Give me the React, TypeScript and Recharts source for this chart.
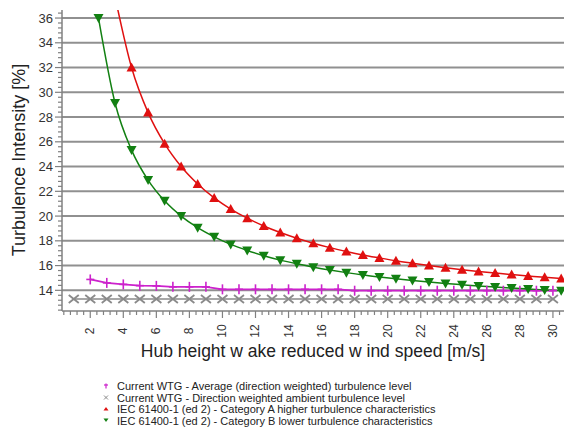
import React from 'react';
import { LineChart, Line, XAxis, YAxis, ReferenceLine } from 'recharts';

// wind speeds [m/s]
const ambientSpeeds = [1, 2, 3, 4, 5, 6, 7, 8, 9, 10, 11, 12, 13, 14, 15, 16, 17, 18, 19, 20, 21, 22, 23, 24, 25, 26, 27, 28, 29, 30];
const avgSpeeds = [2, 3, 4, 5, 6, 7, 8, 9, 10, 11, 12, 13, 14, 15, 16, 17, 18, 19, 20, 21, 22, 23, 24, 25, 26, 27, 28, 29, 30];
const catASpeeds = [3.5, 4.5, 5.5, 6.5, 7.5, 8.5, 9.5, 10.5, 11.5, 12.5, 13.5, 14.5, 15.5, 16.5, 17.5, 18.5, 19.5, 20.5, 21.5, 22.5, 23.5, 24.5, 25.5, 26.5, 27.5, 28.5, 29.5, 30.5];
const catBSpeeds = [2.5, 3.5, 4.5, 5.5, 6.5, 7.5, 8.5, 9.5, 10.5, 11.5, 12.5, 13.5, 14.5, 15.5, 16.5, 17.5, 18.5, 19.5, 20.5, 21.5, 22.5, 23.5, 24.5, 25.5, 26.5, 27.5, 28.5, 29.5, 30.5];

// turbulence intensity [%]
const ambientTI = [13.3, 13.3, 13.3, 13.3, 13.3, 13.3, 13.3, 13.3, 13.3, 13.3, 13.3, 13.3, 13.3, 13.3, 13.3, 13.3, 13.3, 13.3, 13.3, 13.3, 13.3, 13.3, 13.3, 13.3, 13.3, 13.3, 13.3, 13.3, 13.3, 13.3];
const avgTI = [14.88, 14.6, 14.48, 14.38, 14.36, 14.28, 14.28, 14.28, 14.08, 14.08, 14.08, 14.08, 14.08, 14.08, 14.08, 14.08, 13.97, 13.97, 13.97, 13.97, 13.97, 13.97, 13.97, 13.97, 13.97, 13.97, 13.97, 13.97, 13.97];
const catATI = [37.71, 32.0, 28.36, 25.85, 24.0, 22.59, 21.47, 20.57, 19.83, 19.2, 18.67, 18.21, 17.81, 17.45, 17.14, 16.86, 16.62, 16.39, 16.19, 16.0, 15.83, 15.67, 15.53, 15.4, 15.27, 15.16, 15.05, 14.95];
const catBTI = [36.0, 29.14, 25.33, 22.91, 21.23, 20.0, 19.06, 18.32, 17.71, 17.22, 16.8, 16.44, 16.14, 15.87, 15.64, 15.43, 15.24, 15.08, 14.93, 14.79, 14.67, 14.55, 14.45, 14.35, 14.26, 14.18, 14.11, 14.03, 13.97];

const yGridValues = [14, 16, 18, 20, 22, 24, 26, 28, 30, 32, 34, 36];
const legendLabels = [
  'Current WTG - Average (direction weighted) turbulence level',
  'Current WTG - Direction weighted ambient turbulence level',
  'IEC 61400-1 (ed 2) - Category A higher turbulence characteristics',
  'IEC 61400-1 (ed 2) - Category B lower turbulence characteristics',
];

// minor ticks every 0.4, labels on every 2
const xTicks = Array.from({ length: 76 }, (_, k) => Math.round((k + 1) * 4) / 10);
const yTicks = Array.from({ length: 61 }, (_, k) => Math.round(124 + k * 4) / 10);
const isMajor = (v: number) => Number.isInteger(v / 2);

const toRows = (xs: number[], ys: number[]) => xs.map((v, i) => ({ v, ti: ys[i] }));

const FONT = 'Arial, "Liberation Sans", sans-serif';
const MAGENTA = '#cc22cc';
const GREY = '#8a8a8a';
const RED = '#e01010';
const GREEN = '#128012';
const AXIS = '#808080';

const XTick = ({ x, y, payload }: any) => {
  const v = payload.value;
  const major = isMajor(v);
  return (
    <g>
      <line x1={x} x2={x} y1={y} y2={y + (major ? 7 : 4)} stroke={AXIS} strokeWidth={1.2} />
      {major && (
        <text
          transform={`translate(${x + 4},${y + 20}) rotate(-90)`}
          textAnchor="middle"
          fontSize={12}
          fontFamily={FONT}
          fill="#333"
        >
          {v}
        </text>
      )}
    </g>
  );
};

const YTick = ({ x, y, payload }: any) => {
  const v = payload.value;
  const major = isMajor(v);
  return (
    <g>
      <line x1={x} x2={x - (major ? 7 : 4)} y1={y} y2={y} stroke={AXIS} strokeWidth={1.2} />
      {major && (
        <text x={x - 9} y={y + 4.5} textAnchor="end" fontSize={13} fontFamily={FONT} fill="#333">
          {v}
        </text>
      )}
    </g>
  );
};

const PlusDot = ({ cx, cy, index }: any) => (
  <g key={`p${index}`}>
    <line x1={cx} x2={cx} y1={cy - 5} y2={cy + 5} stroke={MAGENTA} strokeWidth={1.6} />
    <line x1={cx - 4} x2={cx + 4} y1={cy} y2={cy} stroke={MAGENTA} strokeWidth={1.6} />
  </g>
);

const CrossDot = ({ cx, cy, index }: any) => (
  <g key={`x${index}`}>
    <line x1={cx - 5} x2={cx + 5} y1={cy - 4} y2={cy + 4} stroke={GREY} strokeWidth={1.8} />
    <line x1={cx - 5} x2={cx + 5} y1={cy + 4} y2={cy - 4} stroke={GREY} strokeWidth={1.8} />
  </g>
);

const UpDot = ({ cx, cy, index }: any) => (
  <polygon key={`u${index}`} points={`${cx},${cy - 5} ${cx + 5},${cy + 4} ${cx - 5},${cy + 4}`} fill={RED} />
);

const DownDot = ({ cx, cy, index }: any) => (
  <polygon key={`d${index}`} points={`${cx - 5},${cy - 4} ${cx + 5},${cy - 4} ${cx},${cy + 5}`} fill={GREEN} />
);

const App = () => {
  const legendY = [386, 397.5, 409, 420.5];
  return (
    <div style={{ position: 'relative', width: 565, height: 428, background: '#fff' }}>
      <style>{'body{margin:0}'}</style>
      <LineChart width={565} height={428} margin={{ top: 10, right: 1, bottom: 77, left: 0 }}>
        <XAxis
          type="number"
          dataKey="v"
          domain={[0.29, 30.67]}
          allowDataOverflow
          ticks={xTicks}
          interval={0}
          tick={<XTick />}
          tickLine={false}
          tickSize={0}
          tickMargin={0}
          height={40}
          axisLine={{ stroke: AXIS, strokeWidth: 1.5 }}
        />
        <YAxis
          type="number"
          domain={[12.33, 36.65]}
          allowDataOverflow
          ticks={yTicks}
          interval={0}
          tick={<YTick />}
          tickLine={false}
          tickSize={0}
          tickMargin={0}
          width={62}
          axisLine={{ stroke: AXIS, strokeWidth: 1.5 }}
        />
        {yGridValues.map((g) => (
          <ReferenceLine key={g} y={g} stroke="#909090" strokeWidth={2} />
        ))}
        <Line
          data={toRows(ambientSpeeds, ambientTI)}
          dataKey="ti"
          type="linear"
          stroke={GREY}
          strokeWidth={1.5}
          dot={CrossDot}
          isAnimationActive={false}
        />
        <Line
          data={toRows(avgSpeeds, avgTI)}
          dataKey="ti"
          type="linear"
          stroke={MAGENTA}
          strokeWidth={1.8}
          dot={PlusDot}
          isAnimationActive={false}
        />
        <Line
          data={toRows(catASpeeds, catATI)}
          dataKey="ti"
          type="monotone"
          stroke={RED}
          strokeWidth={1.5}
          dot={UpDot}
          isAnimationActive={false}
        />
        <Line
          data={toRows(catBSpeeds, catBTI)}
          dataKey="ti"
          type="monotone"
          stroke={GREEN}
          strokeWidth={1.5}
          dot={DownDot}
          isAnimationActive={false}
        />
      </LineChart>
      <svg
        width={565}
        height={428}
        style={{ position: 'absolute', left: 0, top: 0, pointerEvents: 'none' }}
        fontFamily={FONT}
      >
        <text transform="translate(25,160) rotate(-90)" textAnchor="middle" fontSize={18} fill="#222">
          Turbulence Intensity [%]
        </text>
        <text x={313} y={357} textAnchor="middle" fontSize={17.5} fill="#222">
          Hub height w ake reduced w ind speed [m/s]
        </text>
        {/* legend */}
        <g>
          <line x1={106} x2={106} y1={legendY[0] - 2.5} y2={legendY[0] + 2.5} stroke={MAGENTA} strokeWidth={1.2} />
          <line x1={104} x2={108} y1={legendY[0] - 1} y2={legendY[0] - 1} stroke={MAGENTA} strokeWidth={1.2} />
          <line x1={104} x2={108} y1={legendY[1] - 2} y2={legendY[1] + 2} stroke={GREY} strokeWidth={1} />
          <line x1={104} x2={108} y1={legendY[1] + 2} y2={legendY[1] - 2} stroke={GREY} strokeWidth={1} />
          <polygon
            points={`${106},${legendY[2] - 2} ${108.5},${legendY[2] + 1.5} ${103.5},${legendY[2] + 1.5}`}
            fill={RED}
          />
          <polygon
            points={`${103.5},${legendY[3] - 2} ${108.5},${legendY[3] - 2} ${106},${legendY[3] + 1.5}`}
            fill={GREEN}
          />
          {legendLabels.map((t, i) => (
            <text key={t} x={117} y={legendY[i] + 4} fontSize={11} fill="#222">
              {t}
            </text>
          ))}
        </g>
      </svg>
    </div>
  );
};

export default App;
